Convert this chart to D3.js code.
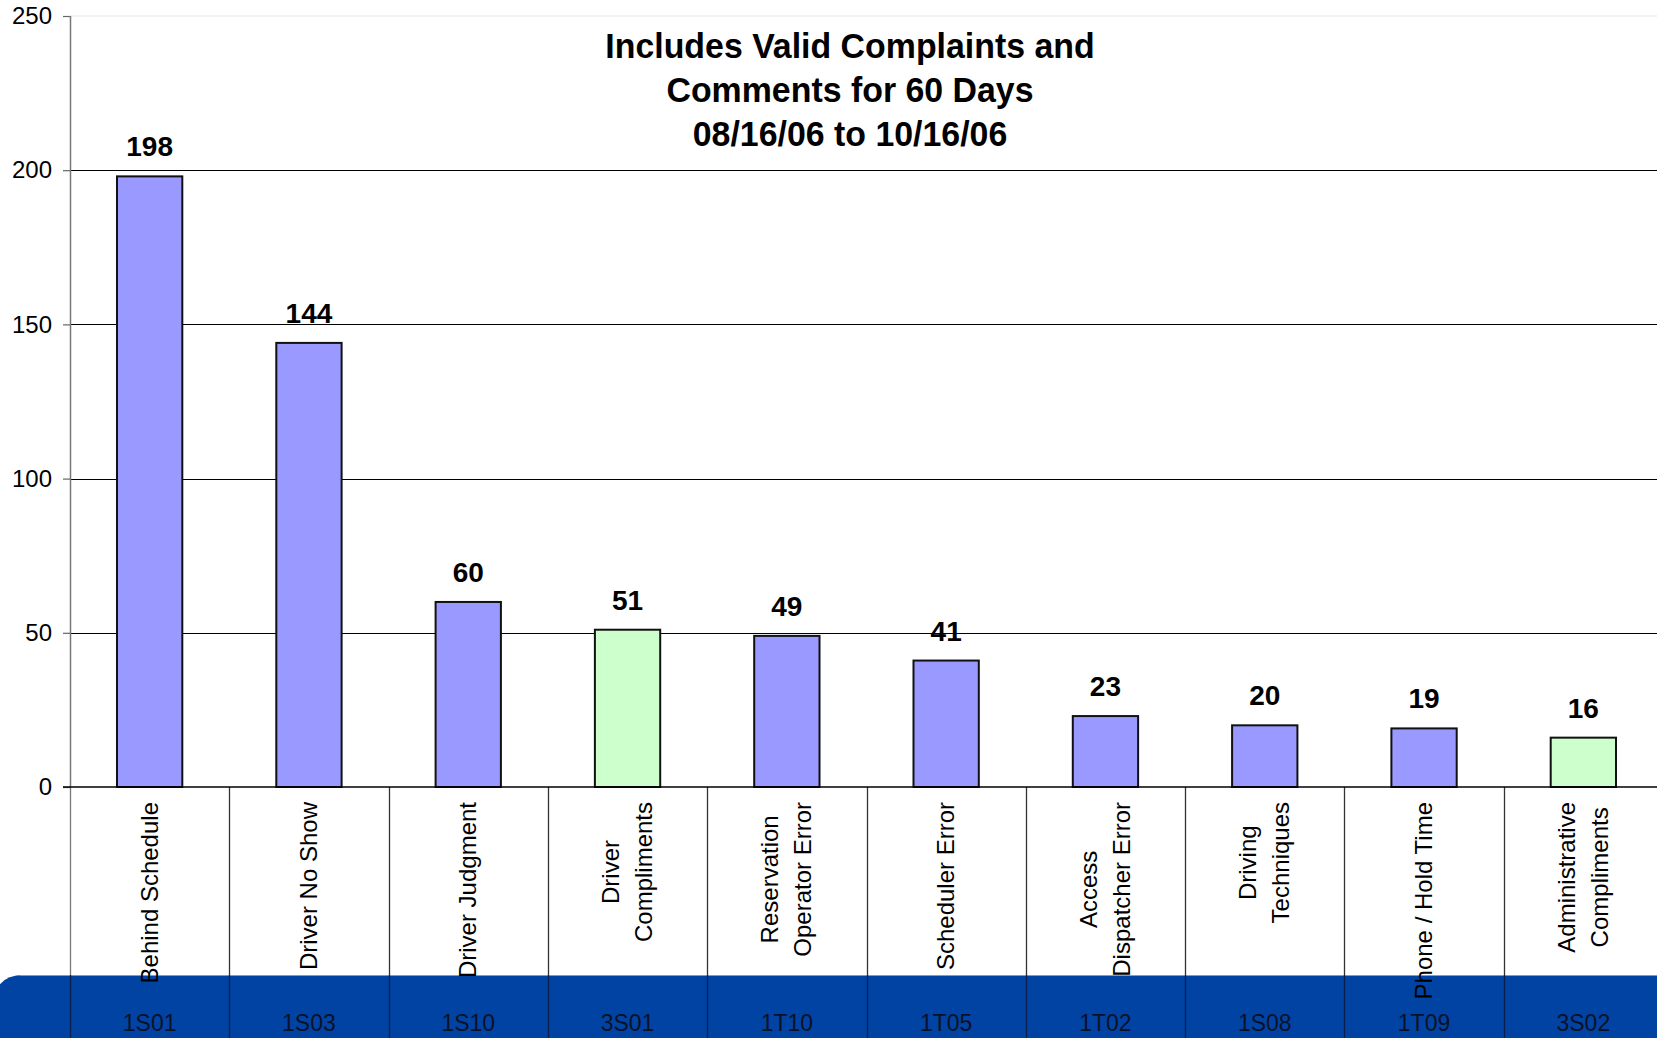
<!DOCTYPE html>
<html>
<head>
<meta charset="utf-8">
<script src="https://cdn.jsdelivr.net/npm/d3@7"></script>
<style>
  html, body { margin: 0; padding: 0; background: #fff; overflow: hidden; }
  svg { display: block; font-family: "Liberation Sans", Arial, sans-serif; }
</style>
</head>
<body>
<svg id="chart" width="1657" height="1038"></svg>
<script>
// Complaint / comment categories, each split into the lines it is printed on
const categoryLines = [
  ["Behind Schedule"],
  ["Driver No Show"],
  ["Driver Judgment"],
  ["Driver", "Compliments"],
  ["Reservation", "Operator Error"],
  ["Scheduler Error"],
  ["Access", "Dispatcher Error"],
  ["Driving", "Techniques"],
  ["Phone / Hold Time"],
  ["Administrative", "Compliments"]
];
const categoryCodes = ["1S01", "1S03", "1S10", "3S01", "1T10", "1T05", "1T02", "1S08", "1T09", "3S02"];
const counts = [198, 144, 60, 51, 49, 41, 23, 20, 19, 16];
const isCompliment = [false, false, false, true, false, false, false, false, false, true];
const yTicks = [0, 50, 100, 150, 200, 250];
const titleLines = [
  "Includes Valid Complaints and",
  "Comments for 60 Days",
  "08/16/06 to 10/16/06"
];

const W = 1657, H = 1038;
const plot = { left: 70, right: 1663, top: 16, bottom: 787 };
const svg = d3.select("#chart");

const x = d3.scaleBand()
  .domain(d3.range(counts.length))
  .range([plot.left, plot.right])
  .padding(0);
const y = d3.scaleLinear().domain([0, 250]).range([plot.bottom, plot.top]);
const barW = x.bandwidth() * 0.41;

// Blue footer strip with a rounded top-left corner
const stripTop = 975, r = 30, sx = -6;
svg.append("path")
  .attr("d", `M${sx},${H} L${sx},${stripTop + r} Q${sx},${stripTop} ${sx + r},${stripTop} L${W},${stripTop} L${W},${H} Z`)
  .attr("fill", "#0043a3");
svg.append("line")
  .attr("x1", sx + r - 4).attr("x2", W)
  .attr("y1", stripTop + 0.5).attr("y2", stripTop + 0.5)
  .attr("stroke", "#7f9ad0").attr("stroke-width", 1.2);

// Top boundary and horizontal gridlines
svg.append("line")
  .attr("x1", plot.left).attr("x2", W)
  .attr("y1", y(250)).attr("y2", y(250))
  .attr("stroke", "#e8e8e8").attr("stroke-width", 1.2);
svg.append("g")
  .selectAll("line")
  .data(yTicks.filter(d => d > 0 && d < 250))
  .join("line")
  .attr("x1", plot.left).attr("x2", W)
  .attr("y1", d => Math.round(y(d)) + 0.5).attr("y2", d => Math.round(y(d)) + 0.5)
  .attr("stroke", "#000").attr("stroke-width", 1);

// Y axis
const yAxis = svg.append("g")
  .attr("transform", `translate(${plot.left},0)`)
  .call(d3.axisLeft(y).tickValues(yTicks).tickSize(7).tickPadding(11));
yAxis.select(".domain").remove();
yAxis.selectAll(".tick line").attr("stroke", "#666").attr("stroke-width", 1.2);
yAxis.selectAll(".tick text")
  .attr("font-size", 24)
  .attr("font-family", "Liberation Sans, Arial, sans-serif")
  .attr("fill", "#000");

// Category separators running down through the label area and the strip
const sepX = d3.range(counts.length).map(i => x(i));
svg.append("g")
  .selectAll("line")
  .data(sepX)
  .join("line")
  .attr("x1", d => Math.round(d) + 0.5).attr("x2", d => Math.round(d) + 0.5)
  .attr("y1", plot.bottom).attr("y2", stripTop)
  .attr("stroke", (d, i) => i === 0 ? "#777" : "#333").attr("stroke-width", 1.3);
svg.append("g")
  .selectAll("line")
  .data(sepX)
  .join("line")
  .attr("x1", d => Math.round(d) + 0.5).attr("x2", d => Math.round(d) + 0.5)
  .attr("y1", stripTop).attr("y2", H)
  .attr("stroke", "#0a1f4d").attr("stroke-width", 1.3);

// Y axis line
svg.append("line")
  .attr("x1", plot.left + 0.5).attr("x2", plot.left + 0.5)
  .attr("y1", plot.top).attr("y2", plot.bottom)
  .attr("stroke", "#777").attr("stroke-width", 1.5);

// Bars
svg.append("g")
  .selectAll("rect")
  .data(counts)
  .join("rect")
  .attr("x", (d, i) => x(i) + x.bandwidth() / 2 - barW / 2)
  .attr("width", barW)
  .attr("y", d => y(d))
  .attr("height", d => y(0) - y(d))
  .attr("fill", (d, i) => isCompliment[i] ? "#ccffcc" : "#9999ff")
  .attr("stroke", "#111")
  .attr("stroke-width", 2);

// Baseline
svg.append("line")
  .attr("x1", plot.left - 7).attr("x2", W)
  .attr("y1", y(0)).attr("y2", y(0))
  .attr("stroke", "#000").attr("stroke-width", 1.5);

// Value labels
svg.append("g")
  .selectAll("text")
  .data(counts)
  .join("text")
  .attr("x", (d, i) => x(i) + x.bandwidth() / 2)
  .attr("y", d => y(d) - 20)
  .attr("text-anchor", "middle")
  .attr("font-size", 28)
  .attr("font-weight", "bold")
  .attr("fill", "#000")
  .text(d => d);

// Rotated category labels, lines centred on each other, block starting just below the axis
const labelTop = 802, lineGap = 33, capOffset = 8;
categoryLines.forEach((lines, i) => {
  const cx = x(i) + x.bandwidth() / 2;
  const g = svg.append("g");
  const texts = lines.map((t, j) => g.append("text")
    .attr("font-size", 24)
    .attr("fill", "#000")
    .attr("text-anchor", "middle")
    .text(t));
  const maxLen = d3.max(texts, t => t.node().getComputedTextLength());
  const cy = labelTop + maxLen / 2;
  texts.forEach((t, j) => {
    const bx = cx + capOffset + (j - (lines.length - 1) / 2) * lineGap;
    t.attr("transform", `translate(${bx},${cy}) rotate(-90)`);
  });
});

// Category codes in the footer strip
svg.append("g")
  .selectAll("text")
  .data(categoryCodes)
  .join("text")
  .attr("x", (d, i) => x(i) + x.bandwidth() / 2)
  .attr("y", 1031)
  .attr("text-anchor", "middle")
  .attr("font-size", 23)
  .attr("fill", "#0b1228")
  .text(d => d);

// Title
const title = svg.append("g").attr("transform", "translate(850,0) scale(0.968,1)");
title.selectAll("text")
  .data(titleLines)
  .join("text")
  .attr("x", 0)
  .attr("y", (d, i) => 58 + i * 44)
  .attr("text-anchor", "middle")
  .attr("font-size", 35)
  .attr("font-weight", "bold")
  .attr("fill", "#000")
  .text(d => d);
</script>
</body>
</html>
